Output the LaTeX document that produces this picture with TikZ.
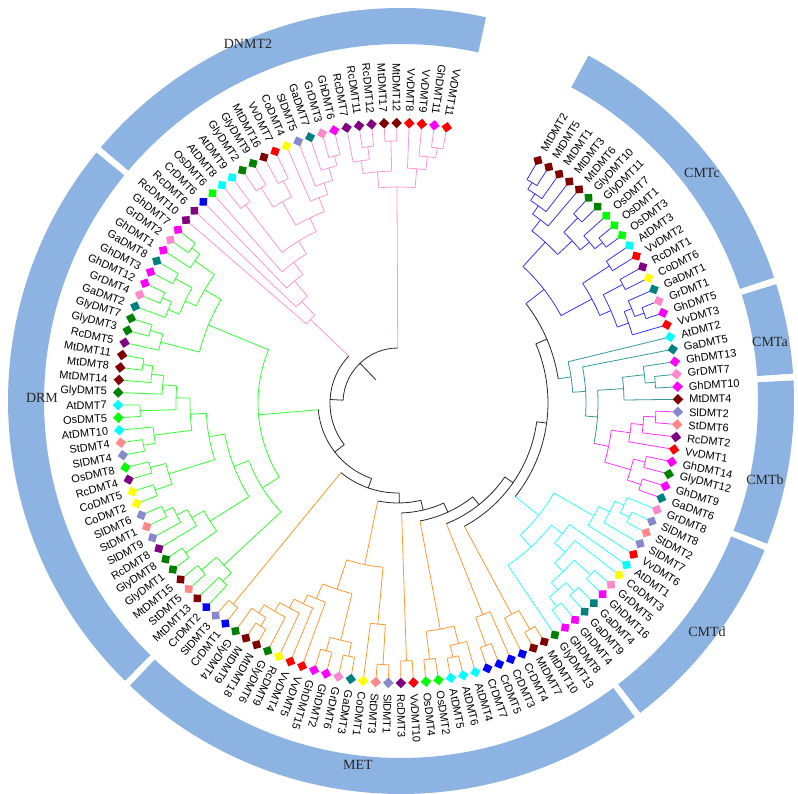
\documentclass[tikz,border=0pt]{standalone}
\usepackage{fontspec}
\setmainfont{Liberation Serif}
\newfontfamily\labfont{Liberation Sans}
\definecolor{cMt}{RGB}{128,0,0}
\definecolor{cGly}{RGB}{0,128,0}
\definecolor{cOs}{RGB}{0,255,0}
\definecolor{cAt}{RGB}{0,255,255}
\definecolor{cVv}{RGB}{255,0,0}
\definecolor{cRc}{RGB}{128,0,128}
\definecolor{cCo}{RGB}{255,255,0}
\definecolor{cGa}{RGB}{0,128,128}
\definecolor{cGr}{RGB}{255,136,204}
\definecolor{cGh}{RGB}{255,0,255}
\definecolor{cSl}{RGB}{136,136,204}
\definecolor{cSt}{RGB}{255,136,136}
\definecolor{cCr}{RGB}{0,0,255}
\definecolor{bC}{RGB}{51,51,255}
\definecolor{bA}{RGB}{51,153,153}
\definecolor{bB}{RGB}{255,51,255}
\definecolor{bD}{RGB}{51,255,255}
\definecolor{bM}{RGB}{255,153,51}
\definecolor{bR}{RGB}{51,255,51}
\definecolor{bN}{RGB}{255,153,204}
\definecolor{bK}{RGB}{40,40,40}
\definecolor{ringc}{RGB}{141,179,226}
\makeatletter
\newcommand\setN[4]{\expandafter\xdef\csname tA@#1\endcsname{#2}%
 \expandafter\xdef\csname tR@#1\endcsname{#3}%
 \expandafter\xdef\csname tC@#1\endcsname{#4}}
\newcommand\gtA[1]{\csname tA@#1\endcsname}
\newcommand\gtR[1]{\csname tR@#1\endcsname}
\newcommand\gtC[1]{\csname tC@#1\endcsname}
\makeatother
\newcommand\lf[4]{%
 \pgfmathsetmacro\lfa{60-2.576*#1}%
 \setN{#1}{\lfa}{275}{#4}%
 \node[mk,fill=#3,rotate=\lfa+45] (L#1) at (\lfa:280pt) {};%
 \ifnum#1>72\relax
  \node[lbl,anchor=east,rotate=\lfa+180] (T#1) at (\lfa:291pt) {#2};%
 \else
  \node[lbl,anchor=west,rotate=\lfa] (T#1) at (\lfa:291pt) {#2};%
 \fi}
\newcommand\nd[5]{%
 \pgfmathsetmacro\ndA{\gtA{#3}}%
 \pgfmathsetmacro\ndB{\gtA{#4}}%
 \pgfmathsetmacro\ndM{(\ndA+\ndB)/2}%
 \edef\ndRA{\gtR{#3}}\edef\ndRB{\gtR{#4}}%
 \edef\ndCA{\gtC{#3}}\edef\ndCB{\gtC{#4}}%
 \draw[draw=\ndCA] (\ndA:#2pt) -- (\ndA:\ndRA pt);%
 \draw[draw=\ndCB] (\ndB:#2pt) -- (\ndB:\ndRB pt);%
 \draw[draw=#5] (\ndA:#2pt) arc[start angle=\ndA,end angle=\ndB,radius=#2pt];%
 \setN{#1}{\ndM}{#2}{#5}}
\newcommand\ringseg[2]{%
 \fill[ringc,shift={(3pt,2pt)}] (#1:357pt) arc[start angle=#1,end angle=#2,radius=357pt]
  -- (#2:393pt) arc[start angle=#2,end angle=#1,radius=393pt] -- cycle;}
\tikzset{mk/.style={rectangle,minimum size=7.5pt,inner sep=0pt,draw=none},
 lbl/.style={font=\labfont\fontsize{11}{13}\selectfont,inner sep=0pt,text=black},
 rlab/.style={font=\fontsize{14}{16}\selectfont,text=black!85,inner sep=0pt}}
\begin{document}
\begin{tikzpicture}[x=1pt,y=1pt,line width=0.8pt]
\useasboundingbox (-398,-391) rectangle (400,403);
\fill[white] (-398,-391) rectangle (400,403);
% ring
\ringseg{61.5}{18.3}
\ringseg{17.3}{4.0}
\ringseg{3.0}{-21.3}
\ringseg{-22.3}{-52.5}
\ringseg{-53.5}{-133.6}
\ringseg{-134.6}{-219.2}
\ringseg{-220.2}{-282.5}
\node[rlab] (rCMTc) at (304,230) {CMTc};
\node[rlab] (rCMTa) at (372,61) {CMTa};
\node[rlab] (rCMTb) at (367,-77) {CMTb};
\node[rlab] (rCMTd) at (309,-229) {CMTd};
\node[rlab] (rMET) at (-40,-362) {MET};
\node[rlab] (rDRM) at (-356,5) {DRM};
\node[rlab] (rDNMT) at (-150,359) {DNMT2};
% leaves
\lf{0}{MtDMT2}{cMt}{bC}
\lf{1}{MtDMT5}{cMt}{bC}
\lf{2}{MtDMT1}{cMt}{bC}
\lf{3}{MtDMT3}{cMt}{bC}
\lf{4}{MtDMT6}{cMt}{bC}
\lf{5}{GlyDMT10}{cGly}{bC}
\lf{6}{GlyDMT11}{cGly}{bC}
\lf{7}{OsDMT7}{cOs}{bC}
\lf{8}{OsDMT1}{cOs}{bC}
\lf{9}{OsDMT3}{cOs}{bC}
\lf{10}{AtDMT3}{cAt}{bC}
\lf{11}{VvDMT2}{cVv}{bC}
\lf{12}{RcDMT1}{cRc}{bC}
\lf{13}{CoDMT6}{cCo}{bC}
\lf{14}{GaDMT1}{cGa}{bC}
\lf{15}{GrDMT1}{cGr}{bC}
\lf{16}{GhDMT5}{cGh}{bC}
\lf{17}{VvDMT3}{cVv}{bC}
\lf{18}{AtDMT2}{cAt}{bA}
\lf{19}{GaDMT5}{cGa}{bA}
\lf{20}{GhDMT13}{cGh}{bA}
\lf{21}{GrDMT7}{cGr}{bA}
\lf{22}{GhDMT10}{cGh}{bA}
\lf{23}{MtDMT4}{cMt}{bA}
\lf{24}{SlDMT2}{cSl}{bB}
\lf{25}{StDMT6}{cSt}{bB}
\lf{26}{RcDMT2}{cRc}{bB}
\lf{27}{VvDMT1}{cVv}{bB}
\lf{28}{GhDMT14}{cGh}{bB}
\lf{29}{GlyDMT12}{cGly}{bB}
\lf{30}{GhDMT9}{cGh}{bB}
\lf{31}{GaDMT6}{cGa}{bB}
\lf{32}{GrDMT8}{cGr}{bD}
\lf{33}{SlDMT8}{cSl}{bD}
\lf{34}{StDMT2}{cSt}{bD}
\lf{35}{SlDMT7}{cSl}{bD}
\lf{36}{VvDMT6}{cVv}{bD}
\lf{37}{AtDMT1}{cAt}{bD}
\lf{38}{CoDMT3}{cCo}{bD}
\lf{39}{GrDMT5}{cGr}{bD}
\lf{40}{GhDMT16}{cGh}{bD}
\lf{41}{GaDMT4}{cGa}{bD}
\lf{42}{GaDMT9}{cGa}{bD}
\lf{43}{GhDMT4}{cGh}{bD}
\lf{44}{GhDMT8}{cGh}{bD}
\lf{45}{GlyDMT13}{cGly}{bD}
\lf{46}{MtDMT10}{cMt}{bM}
\lf{47}{MtDMT7}{cMt}{bM}
\lf{48}{CrDMT4}{cCr}{bM}
\lf{49}{CrDMT3}{cCr}{bM}
\lf{50}{CrDMT5}{cCr}{bM}
\lf{51}{CrDMT7}{cCr}{bM}
\lf{52}{AtDMT4}{cAt}{bM}
\lf{53}{AtDMT6}{cAt}{bM}
\lf{54}{AtDMT5}{cAt}{bM}
\lf{55}{OsDMT2}{cOs}{bM}
\lf{56}{OsDMT4}{cOs}{bM}
\lf{57}{VvDMT10}{cVv}{bM}
\lf{58}{RcDMT3}{cRc}{bM}
\lf{59}{SlDMT1}{cSl}{bM}
\lf{60}{StDMT3}{cSt}{bM}
\lf{61}{CoDMT1}{cCo}{bM}
\lf{62}{GaDMT3}{cGa}{bM}
\lf{63}{GrDMT6}{cGr}{bM}
\lf{64}{GhDMT2}{cGh}{bM}
\lf{65}{GhDMT15}{cGh}{bM}
\lf{66}{VvDMT5}{cVv}{bM}
\lf{67}{VvDMT4}{cVv}{bM}
\lf{68}{RcDMT9}{cCo}{bM}
\lf{69}{GlyDMT6}{cGly}{bM}
\lf{70}{MtDMT18}{cMt}{bM}
\lf{71}{MtDMT9}{cMt}{bM}
\lf{72}{GlyDMT4}{cGly}{bM}
\lf{73}{CrDMT1}{cCr}{bM}
\lf{74}{SlDMT3}{cSl}{bM}
\lf{75}{CrDMT2}{cCr}{bR}
\lf{76}{MtDMT13}{cMt}{bR}
\lf{77}{StDMT5}{cSt}{bR}
\lf{78}{MtDMT15}{cMt}{bR}
\lf{79}{GlyDMT1}{cGly}{bR}
\lf{80}{GlyDMT8}{cGly}{bR}
\lf{81}{RcDMT8}{cRc}{bR}
\lf{82}{SlDMT9}{cSl}{bR}
\lf{83}{StDMT1}{cSt}{bR}
\lf{84}{SlDMT6}{cSl}{bR}
\lf{85}{CoDMT2}{cCo}{bR}
\lf{86}{CoDMT5}{cCo}{bR}
\lf{87}{RcDMT4}{cRc}{bR}
\lf{88}{OsDMT8}{cOs}{bR}
\lf{89}{SlDMT4}{cSl}{bR}
\lf{90}{StDMT4}{cSt}{bR}
\lf{91}{AtDMT10}{cAt}{bR}
\lf{92}{OsDMT5}{cOs}{bR}
\lf{93}{AtDMT7}{cAt}{bR}
\lf{94}{GlyDMT5}{cGly}{bR}
\lf{95}{MtDMT14}{cMt}{bR}
\lf{96}{MtDMT8}{cMt}{bR}
\lf{97}{MtDMT11}{cMt}{bR}
\lf{98}{RcDMT5}{cRc}{bR}
\lf{99}{GlyDMT3}{cGly}{bR}
\lf{100}{GlyDMT7}{cGly}{bR}
\lf{101}{GaDMT2}{cGa}{bR}
\lf{102}{GrDMT4}{cGr}{bR}
\lf{103}{GhDMT12}{cGh}{bR}
\lf{104}{GhDMT3}{cGh}{bR}
\lf{105}{GaDMT8}{cGa}{bR}
\lf{106}{GhDMT1}{cGh}{bR}
\lf{107}{GrDMT2}{cGr}{bR}
\lf{108}{GhDMT7}{cGh}{bR}
\lf{109}{RcDMT10}{cRc}{bN}
\lf{110}{RcDMT6}{cRc}{bN}
\lf{111}{CrDMT6}{cCr}{bN}
\lf{112}{OsDMT6}{cOs}{bN}
\lf{113}{AtDMT8}{cAt}{bN}
\lf{114}{AtDMT9}{cAt}{bN}
\lf{115}{GlyDMT2}{cGly}{bN}
\lf{116}{GlyDMT9}{cGly}{bN}
\lf{117}{MtDMT16}{cMt}{bN}
\lf{118}{VvDMT7}{cVv}{bN}
\lf{119}{CoDMT4}{cCo}{bN}
\lf{120}{SlDMT5}{cSl}{bN}
\lf{121}{GaDMT7}{cGa}{bN}
\lf{122}{GrDMT3}{cGr}{bN}
\lf{123}{GhDMT6}{cGh}{bN}
\lf{124}{RcDMT7}{cRc}{bN}
\lf{125}{RcDMT11}{cRc}{bN}
\lf{126}{RcDMT12}{cRc}{bN}
\lf{127}{MtDMT17}{cMt}{bN}
\lf{128}{MtDMT12}{cMt}{bN}
\lf{129}{VvDMT8}{cVv}{bN}
\lf{130}{VvDMT9}{cVv}{bN}
\lf{131}{GhDMT11}{cGh}{bN}
\lf{132}{VvDMT11}{cVv}{bN}
% CMTc
\nd{c1}{258}{0}{1}{bC}
\nd{c2}{250}{c1}{2}{bC}
\nd{c3}{242}{c2}{3}{bC}
\nd{c4}{232}{c3}{4}{bC}
\nd{c5}{258}{5}{6}{bC}
\nd{c6}{260}{8}{9}{bC}
\nd{c7}{250}{7}{c6}{bC}
\nd{c8}{238}{c5}{c7}{bC}
\nd{c9}{218}{c4}{c8}{bC}
\nd{c10}{252}{10}{11}{bC}
\nd{c11}{254}{12}{13}{bC}
\nd{c12}{262}{15}{16}{bC}
\nd{c13}{252}{14}{c12}{bC}
\nd{c14}{244}{c13}{17}{bC}
\nd{c15}{232}{c11}{c14}{bC}
\nd{c16}{220}{c10}{c15}{bC}
\nd{CMTc}{185}{c9}{c16}{bC}
% CMTa / CMTb
\nd{a1}{258}{21}{22}{bA}
\nd{a2}{248}{20}{a1}{bA}
\nd{a3}{226}{a2}{23}{bA}
\nd{b1}{258}{24}{25}{bB}
\nd{b2}{246}{b1}{26}{bB}
\nd{b3}{234}{b2}{27}{bB}
\nd{b4}{254}{28}{29}{bB}
\nd{b5}{256}{30}{31}{bB}
\nd{b6}{242}{b4}{b5}{bB}
\nd{CMTb}{215}{b3}{b6}{bB}
\nd{a4}{200}{a3}{CMTb}{bA}
\nd{a5}{188}{19}{a4}{bA}
\nd{CMTab}{175}{18}{a5}{bA}
% CMTd
\nd{d1}{258}{33}{34}{bD}
\nd{d2}{248}{32}{d1}{bD}
\nd{d3}{238}{d2}{35}{bD}
\nd{d4}{226}{d3}{36}{bD}
\nd{d5}{258}{39}{40}{bD}
\nd{d6}{258}{41}{42}{bD}
\nd{d7}{258}{43}{44}{bD}
\nd{d8}{246}{d6}{d7}{bD}
\nd{d9}{236}{d5}{d8}{bD}
\nd{d10}{224}{38}{d9}{bD}
\nd{d11}{210}{37}{d10}{bD}
\nd{d12}{196}{d11}{45}{bD}
\nd{CMTd}{180}{d4}{d12}{bD}
% MET
\nd{m1}{262}{46}{47}{bM}
\nd{m2}{240}{48}{m1}{bM}
\nd{m3}{258}{50}{51}{bM}
\nd{m4}{228}{49}{m3}{bM}
\nd{m6}{260}{53}{54}{bM}
\nd{m7}{248}{52}{m6}{bM}
\nd{m8}{258}{55}{56}{bM}
\nd{mAO}{230}{m7}{m8}{bM}
\nd{m10}{258}{57}{58}{bM}
\nd{m11}{262}{59}{60}{bM}
\nd{mL1}{222}{m11}{61}{bM}
\nd{m13}{258}{64}{65}{bM}
\nd{m14}{258}{62}{63}{bM}
\nd{m15}{244}{m14}{m13}{bM}
\nd{m16}{262}{70}{71}{bM}
\nd{m17}{252}{m16}{72}{bM}
\nd{m18}{242}{69}{m17}{bM}
\nd{m19}{232}{68}{m18}{bM}
\nd{m20}{222}{67}{m19}{bM}
\nd{m21}{212}{66}{m20}{bM}
\nd{mL2}{196}{m15}{m21}{bM}
\nd{mL}{165}{mL1}{mL2}{bM}
\nd{m22}{260}{73}{74}{bM}
% DRM
\nd{g1}{250}{75}{76}{bR}
\nd{g2}{258}{77}{78}{bR}
\nd{g3}{238}{g1}{g2}{bR}
\nd{g4}{260}{79}{80}{bR}
\nd{g5}{258}{83}{84}{bR}
\nd{g6}{248}{82}{g5}{bR}
\nd{g7}{236}{81}{g6}{bR}
\nd{g8}{222}{g4}{g7}{bR}
\nd{g9}{258}{85}{86}{bR}
\nd{g9b}{256}{87}{88}{bR}
\nd{g10}{240}{g9}{g9b}{bR}
\nd{g12}{258}{89}{90}{bR}
\nd{g13}{246}{91}{g12}{bR}
\nd{g14}{258}{92}{93}{bR}
\nd{g16}{258}{96}{97}{bR}
\nd{g17}{248}{95}{g16}{bR}
\nd{g18}{236}{94}{g17}{bR}
\nd{g19}{222}{g14}{g18}{bR}
\nd{g20}{208}{g13}{g19}{bR}
\nd{g21}{192}{g10}{g20}{bR}
\nd{g22}{176}{g8}{g21}{bR}
\nd{g23}{160}{g3}{g22}{bR}
\nd{g24}{258}{99}{100}{bR}
\nd{g25}{245}{98}{g24}{bR}
\nd{g26}{258}{102}{103}{bR}
\nd{g27}{248}{101}{g26}{bR}
\nd{g28}{255}{104}{105}{bR}
\nd{g29}{236}{g27}{g28}{bR}
\nd{g30}{258}{107}{108}{bR}
\nd{g31}{248}{106}{g30}{bR}
\nd{g32}{224}{g29}{g31}{bR}
\nd{g33}{205}{g25}{g32}{bR}
\nd{DRM}{140}{g23}{g33}{bR}
% DNMT2
\nd{p1}{255}{122}{123}{bN}
\nd{p2}{245}{121}{p1}{bN}
\nd{p3}{232}{120}{p2}{bN}
\nd{p4}{220}{119}{p3}{bN}
\nd{p5}{250}{117}{118}{bN}
\nd{p6}{255}{115}{116}{bN}
\nd{p7}{232}{p6}{p5}{bN}
\nd{p8}{205}{p7}{p4}{bN}
\nd{p9}{250}{113}{114}{bN}
\nd{p10}{190}{p9}{p8}{bN}
\nd{p11}{175}{112}{p10}{bN}
\nd{p12}{160}{111}{p11}{bN}
\nd{p13}{140}{110}{p12}{bN}
\nd{DNL}{121}{109}{p13}{bN}
\nd{q1}{258}{125}{126}{bN}
\nd{q2}{245}{124}{q1}{bN}
\nd{q3}{262}{127}{128}{bN}
\nd{q4}{232}{q2}{q3}{bN}
\nd{q5}{258}{131}{132}{bN}
\nd{q6}{248}{130}{q5}{bN}
\nd{q7}{235}{129}{q6}{bN}
\nd{DNR}{216}{q4}{q7}{bN}
% backbone
\nd{S}{162}{CMTc}{CMTab}{bK}
\nd{T4}{150}{S}{CMTd}{bK}
\nd{T3}{140}{T4}{m2}{bK}
\nd{T2}{130}{T3}{m4}{bK}
\nd{Tn}{120}{T2}{mAO}{bK}
\nd{U}{110}{Tn}{m10}{bK}
\nd{V}{100}{U}{mL}{bK}
\nd{Y}{90}{V}{m22}{bK}
\nd{X}{80}{Y}{DRM}{bK}
\nd{Z}{68}{X}{DNL}{bK}
\nd{R}{55}{Z}{DNR}{bK}
\pgfmathsetmacro\rootA{\gtA{R}}
\coordinate (root) at (\rootA:32pt);
\draw[bK] (root) -- (\rootA:55pt);
\end{tikzpicture}
\end{document}
